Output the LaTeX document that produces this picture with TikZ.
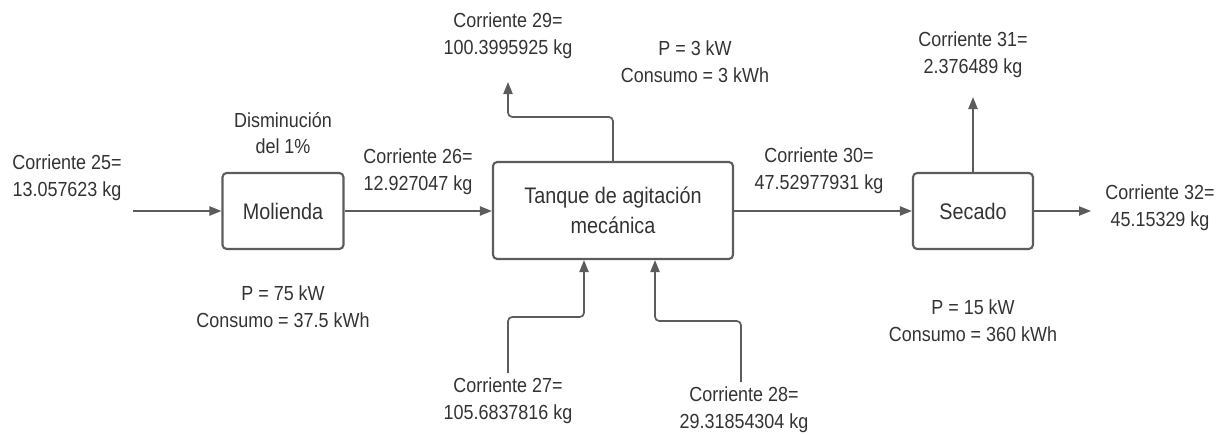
\documentclass[tikz,border=0pt]{standalone}
\usepackage{fontspec}
\setmainfont{Liberation Sans}[FakeStretch=0.88]
\usepackage{xcolor}
\usetikzlibrary{positioning, arrows.meta}
\definecolor{linegray}{HTML}{5C5C5C}
\definecolor{textgray}{HTML}{333333}

\begin{document}
\begin{tikzpicture}[
      x=0.025cm, y=-0.025cm,
      font=\fontsize{14.5}{19}\selectfont,
      unit/.style={rounded corners=3pt, draw=linegray, line width=1.5pt, align=center,
                   text=textgray, inner sep=2pt, font=\fontsize{16}{21}\selectfont},
      lbl/.style={align=center, text=textgray, inner sep=1pt},
      flow/.style={-{Triangle[length=0.3cm, width=0.23cm]}, line width=1.2pt, draw=linegray,
                   rounded corners=3pt}]
    \useasboundingbox (0,0) rectangle (1221,434);
    \node[unit, minimum width=3.025cm, minimum height=1.9cm] (mol) at (283,211) {Molienda};
    \node[unit, minimum width=6cm, minimum height=2.425cm] (tan) at (613,210.5) {Tanque de agitación\\mecánica};
    \node[unit, minimum width=3cm, minimum height=1.9cm] (sec) at (973,211) {Secado};
    \node[lbl] (l25) at (67,178) {Corriente 25=\\13.057623 kg};
    \node[lbl] (l26) at (418,172) {Corriente 26=\\12.927047 kg};
    \node[lbl] (l27) at (508,401) {Corriente 27=\\105.6837816 kg};
    \node[lbl] (l28) at (744,410) {Corriente 28=\\29.31854304 kg};
    \node[lbl] (l29) at (508,36) {Corriente 29=\\100.3995925 kg};
    \node[lbl] (l30) at (819,171) {Corriente 30=\\47.52977931 kg};
    \node[lbl] (l31) at (973,55) {Corriente 31=\\2.376489 kg};
    \node[lbl] (l32) at (1160,208) {Corriente 32=\\45.15329 kg};
    \node[lbl] (dism) at (283,133) {Disminución\\del 1\%};
    \node[lbl] (pmol) at (283,307) {P = 75 kW\\Consumo = 37.5 kWh};
    \node[lbl] (ptan) at (695,62) {P = 3 kW\\Consumo = 3 kWh};
    \node[lbl] (psec) at (973,321) {P = 15 kW\\Consumo = 360 kWh};
    \coordinate (in25) at (133,211);
    \coordinate (s27) at (508,373);
    \coordinate (s28) at (741,382);
    \coordinate (e29) at (508,82);
    \coordinate (e31) at (973,97);
    \coordinate (e32) at (1091,211);
    \draw[flow] (in25) -- (mol);
    \draw[flow] (mol) -- (tan.west |- mol);
    \draw[flow] (tan.east |- sec) -- (sec);
    \draw[flow] (sec) -- (e32);
    \draw[flow] (sec) -- (e31);
    \draw[flow] (tan.north) -- ++(0,-44) -| (e29);
    \draw[flow] (s27) |- (584,317) -- (584,0 |- tan.south);
    \draw[flow] (s28) |- (655,321) -- (655,0 |- tan.south);
  \end{tikzpicture}
\end{document}
